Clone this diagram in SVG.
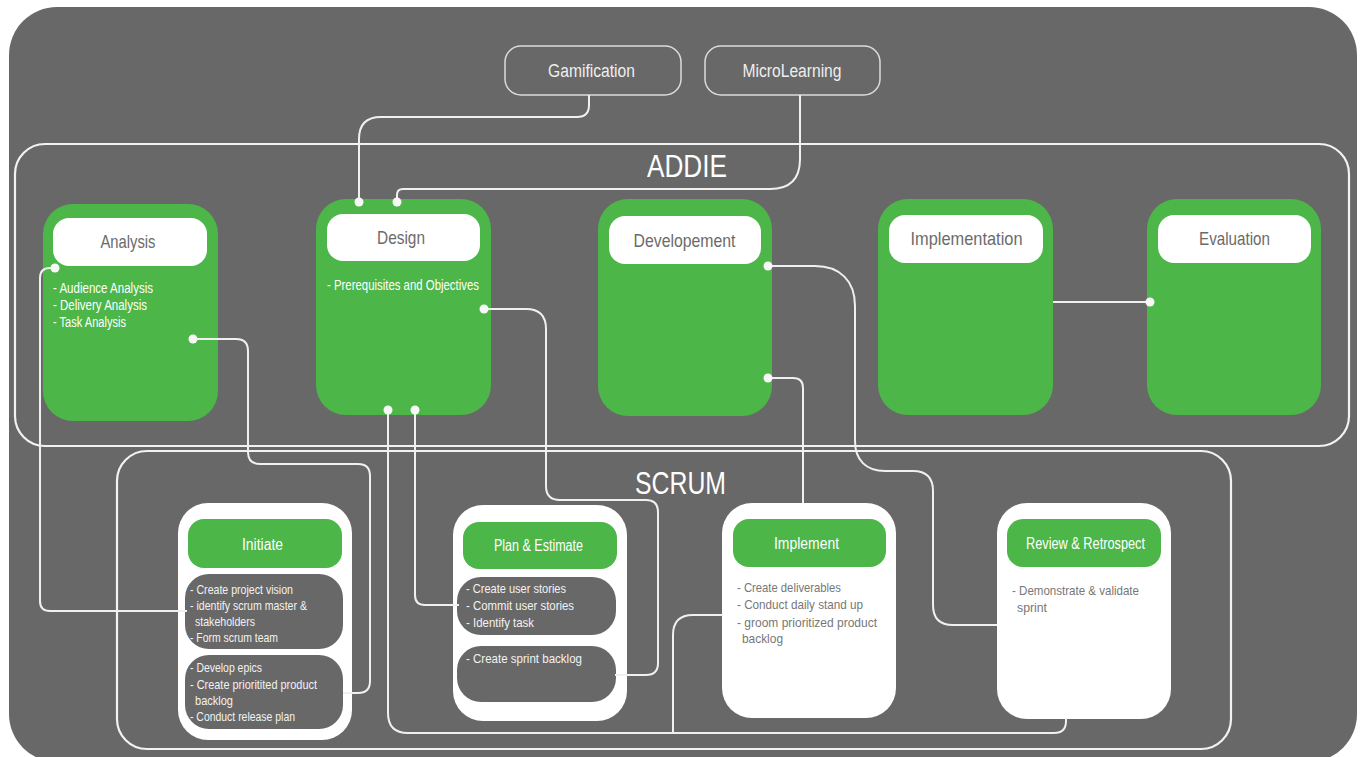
<svg xmlns="http://www.w3.org/2000/svg" width="1361" height="757" viewBox="0 0 1361 757">
  <style>
    text { font-family: "Liberation Sans", Arial, sans-serif; }
    .frame { fill: none; stroke: #f2f2f2; stroke-width: 2.2; }
    .tag { fill: none; stroke: #dcdcdc; stroke-width: 1.5; }
    .phase { fill: #4cb648; }
    .pill { fill: #ffffff; }
    .card { fill: #ffffff; }
    .head { fill: #4cb648; }
    .sub { fill: #686868; }
    .wire { fill: none; stroke: #f0f0f0; stroke-width: 2; }
    .dot { fill: #f7f7f7; }
    .title { fill: #ffffff; font-size: 32px; text-anchor: middle; }
    .tagtxt { fill: #eeeeee; font-size: 18px; text-anchor: middle; }
    .lbl { fill: #6b6b6b; font-size: 19px; text-anchor: middle; }
    .hdr { fill: #ffffff; font-size: 16px; text-anchor: middle; }
    .wb { fill: #ffffff; font-size: 14px; }
    .lb { fill: #f2f2f2; font-size: 13px; }
    .gb { fill: #777777; font-size: 13px; }
  </style>

  <!-- page background -->
  <rect x="9" y="7" width="1348" height="755" rx="48" fill="#686868"/>

  <!-- method frames -->
  <g id="addie-frame">
    <rect class="frame" x="15" y="144" width="1334" height="302" rx="30"/>
    <text class="title" x="687" y="177" font-size="33" textLength="80" lengthAdjust="spacingAndGlyphs">ADDIE</text>
  </g>
  <g id="scrum-frame">
    <rect class="frame" x="117" y="451" width="1114" height="298" rx="30"/>
    <text class="title" x="680.5" y="494" font-size="30" textLength="91" lengthAdjust="spacingAndGlyphs">SCRUM</text>
  </g>

  <!-- top influences -->
  <g id="gamification">
    <rect class="tag" x="505" y="46" width="176" height="49" rx="16"/>
    <text class="tagtxt" x="591.5" y="77" textLength="87" lengthAdjust="spacingAndGlyphs">Gamification</text>
  </g>
  <g id="microlearning">
    <rect class="tag" x="705" y="46" width="175" height="49" rx="16"/>
    <text class="tagtxt" x="792" y="77" textLength="99" lengthAdjust="spacingAndGlyphs">MicroLearning</text>
  </g>

  <!-- ADDIE phases -->
  <g id="analysis">
    <rect class="phase" x="43" y="204" width="175" height="217" rx="30"/>
    <rect class="pill" x="53" y="218" width="154" height="48" rx="16"/>
    <text class="lbl" x="128" y="248" textLength="55" lengthAdjust="spacingAndGlyphs">Analysis</text>
    <text class="wb" x="53" y="293" textLength="100" lengthAdjust="spacingAndGlyphs">- Audience Analysis</text>
    <text class="wb" x="53" y="310" textLength="94" lengthAdjust="spacingAndGlyphs">- Delivery Analysis</text>
    <text class="wb" x="53" y="327" textLength="73" lengthAdjust="spacingAndGlyphs">- Task Analysis</text>
  </g>
  <g id="design">
    <rect class="phase" x="316" y="199" width="175" height="216" rx="30"/>
    <rect class="pill" x="327" y="214" width="153" height="47" rx="16"/>
    <text class="lbl" x="401" y="244" textLength="48" lengthAdjust="spacingAndGlyphs">Design</text>
    <text class="wb" x="327" y="290" textLength="152" lengthAdjust="spacingAndGlyphs">- Prerequisites and Objectives</text>
  </g>
  <g id="developement">
    <rect class="phase" x="598" y="199" width="174" height="217" rx="30"/>
    <rect class="pill" x="609" y="216" width="152" height="48" rx="16"/>
    <text class="lbl" x="684.5" y="247" textLength="102" lengthAdjust="spacingAndGlyphs">Developement</text>
  </g>
  <g id="implementation">
    <rect class="phase" x="878" y="199" width="175" height="216" rx="30"/>
    <rect class="pill" x="889" y="215" width="154" height="48" rx="16"/>
    <text class="lbl" x="966.5" y="245" textLength="112" lengthAdjust="spacingAndGlyphs">Implementation</text>
  </g>
  <g id="evaluation">
    <rect class="phase" x="1147" y="199" width="174" height="216" rx="30"/>
    <rect class="pill" x="1158" y="215" width="153" height="48" rx="16"/>
    <text class="lbl" x="1234.5" y="245" textLength="71" lengthAdjust="spacingAndGlyphs">Evaluation</text>
  </g>

  <!-- SCRUM stages -->
  <g id="initiate">
    <rect class="card" x="178" y="503" width="174" height="237" rx="30"/>
    <rect class="head" x="188" y="519" width="154" height="49" rx="16"/>
    <text class="hdr" x="262.5" y="550" textLength="41" lengthAdjust="spacingAndGlyphs">Initiate</text>
    <rect class="sub" x="185" y="574" width="158" height="75" rx="24"/>
    <rect class="sub" x="185" y="655" width="158" height="74" rx="24"/>
    <text class="lb" x="190" y="594" textLength="103" lengthAdjust="spacingAndGlyphs">- Create project vision</text>
    <text class="lb" x="190" y="610" textLength="117" lengthAdjust="spacingAndGlyphs">- identify scrum master &amp;</text>
    <text class="lb" x="195" y="626" textLength="60" lengthAdjust="spacingAndGlyphs">stakeholders</text>
    <text class="lb" x="190" y="642" textLength="88" lengthAdjust="spacingAndGlyphs">- Form scrum team</text>
    <text class="lb" x="190" y="672" textLength="72" lengthAdjust="spacingAndGlyphs">- Develop epics</text>
    <text class="lb" x="190" y="689" textLength="127" lengthAdjust="spacingAndGlyphs">- Create prioritited product</text>
    <text class="lb" x="195" y="705" textLength="38" lengthAdjust="spacingAndGlyphs">backlog</text>
    <text class="lb" x="190" y="721" textLength="105" lengthAdjust="spacingAndGlyphs">- Conduct release plan</text>
  </g>
  <g id="plan-estimate">
    <rect class="card" x="453" y="505" width="174" height="216" rx="30"/>
    <rect class="head" x="463" y="522" width="154" height="47" rx="16"/>
    <text class="hdr" x="538.5" y="551" textLength="89" lengthAdjust="spacingAndGlyphs">Plan &amp; Estimate</text>
    <rect class="sub" x="457" y="577" width="159" height="58" rx="24"/>
    <rect class="sub" x="457" y="646" width="159" height="56" rx="24"/>
    <text class="lb" x="466" y="593" textLength="100" lengthAdjust="spacingAndGlyphs">- Create user stories</text>
    <text class="lb" x="466" y="610" textLength="108" lengthAdjust="spacingAndGlyphs">- Commit user stories</text>
    <text class="lb" x="466" y="627" textLength="68" lengthAdjust="spacingAndGlyphs">- Identify task</text>
    <text class="lb" x="466" y="663" textLength="116" lengthAdjust="spacingAndGlyphs">- Create sprint backlog</text>
  </g>
  <g id="implement">
    <rect class="card" x="722" y="503" width="174" height="215" rx="30"/>
    <rect class="head" x="733" y="519" width="153" height="48" rx="16"/>
    <text class="hdr" x="806.5" y="549" textLength="65" lengthAdjust="spacingAndGlyphs">Implement</text>
    <text class="gb" x="737" y="592" textLength="104" lengthAdjust="spacingAndGlyphs">- Create deliverables</text>
    <text class="gb" x="737" y="609" textLength="126" lengthAdjust="spacingAndGlyphs">- Conduct daily stand up</text>
    <text class="gb" x="737" y="627" textLength="140" lengthAdjust="spacingAndGlyphs">- groom prioritized product</text>
    <text class="gb" x="742" y="643" textLength="41" lengthAdjust="spacingAndGlyphs">backlog</text>
  </g>
  <g id="review-retrospect">
    <rect class="card" x="997" y="503" width="174" height="216" rx="30"/>
    <rect class="head" x="1007" y="519" width="154" height="48" rx="16"/>
    <text class="hdr" x="1085.5" y="549" textLength="119" lengthAdjust="spacingAndGlyphs">Review &amp; Retrospect</text>
    <text class="gb" x="1012" y="595" textLength="127" lengthAdjust="spacingAndGlyphs">- Demonstrate &amp; validate</text>
    <text class="gb" x="1017" y="612" textLength="30" lengthAdjust="spacingAndGlyphs">sprint</text>
  </g>

  <!-- connectors -->
  <g id="connectors">
    <path class="wire" d="M589,95 V105 Q589,117 577,117 H381 Q359,117 359,139 V202"/>
    <path class="wire" d="M800,95 V159 Q800,189 770,189 H403 Q397,189 397,195 V202"/>
    <path class="wire" d="M55,268 H50 Q40,268 40,278 V601 Q40,611 50,611 H187"/>
    <path class="wire" d="M193,339 H236 Q248,339 248,351 V452 Q248,464 260,464 H358 Q370,464 370,476 V681 Q370,693 358,693 H343"/>
    <path class="wire" d="M388,410 V713 Q388,733 408,733 H1054 Q1066,733 1066,721 V718"/>
    <path class="wire" d="M415,410 V595 Q415,605 425,605 H459"/>
    <path class="wire" d="M484,309 H526 Q546,309 546,329 V486 Q546,500 560,500 H646 Q658,500 658,512 V663 Q658,675 646,675 H615"/>
    <path class="wire" d="M768,266 H815 C840,266 855,281 855,306 V441 C855,460 866,471 885,471 H913 Q933,471 933,491 V605 Q933,625 953,625 H997"/>
    <path class="wire" d="M768,378 H793 Q803,378 803,388 V503"/>
    <path class="wire" d="M723,615 H693 Q673,615 673,635 V733"/>
    <path class="wire" d="M1053,302 H1150"/>
    <circle class="dot" cx="359" cy="202" r="4.5"/>
    <circle class="dot" cx="397" cy="202" r="4.5"/>
    <circle class="dot" cx="55" cy="268" r="4.5"/>
    <circle class="dot" cx="193" cy="339" r="4.5"/>
    <circle class="dot" cx="388" cy="410" r="4.5"/>
    <circle class="dot" cx="415" cy="410" r="4.5"/>
    <circle class="dot" cx="484" cy="309" r="4.5"/>
    <circle class="dot" cx="768" cy="266" r="4.5"/>
    <circle class="dot" cx="768" cy="378" r="4.5"/>
    <circle class="dot" cx="1150" cy="302" r="4.5"/>
  </g>
</svg>
